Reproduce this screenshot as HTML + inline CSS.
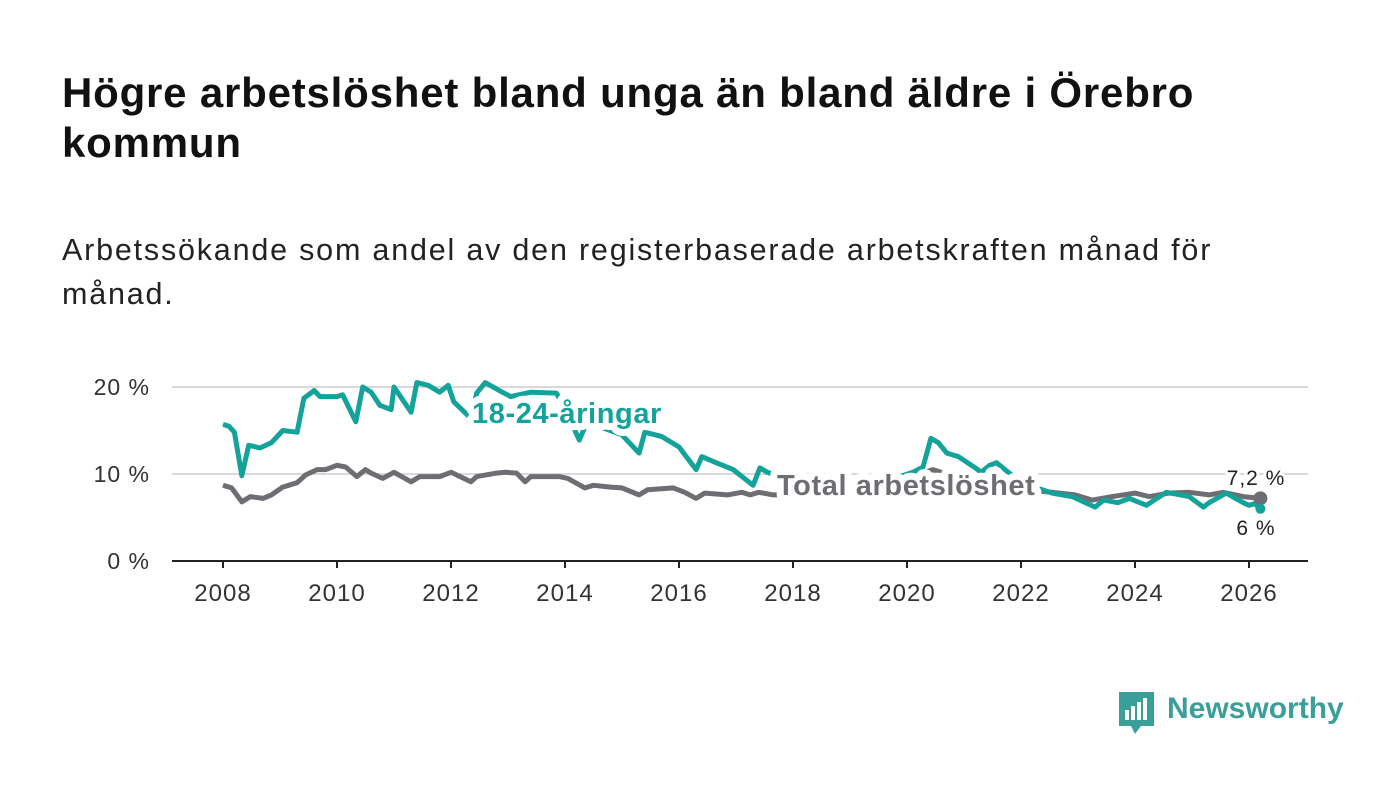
<!DOCTYPE html>
<html><head><meta charset="utf-8"><style>
body{margin:0;background:#fff;width:1400px;height:794px;overflow:hidden;font-family:"Liberation Sans",sans-serif;}
h1{position:absolute;left:62px;top:68px;margin:0;font-size:42px;line-height:50px;font-weight:bold;color:#111;width:1200px;letter-spacing:0.8px;}
p{position:absolute;left:62px;top:228px;margin:0;font-size:30.5px;line-height:44px;color:#222;width:1240px;letter-spacing:1.8px;}
svg{position:absolute;left:0;top:0;}
</style></head><body>
<h1>Högre arbetslöshet bland unga än bland äldre i Örebro kommun</h1>
<p>Arbetssökande som andel av den registerbaserade arbetskraften månad för månad.</p>
<svg id="c" width="1400" height="794"></svg>
<script>
const yTicks=[0,10,20];
const yTickLabels=["0 %","10 %","20 %"];
const xTicks=[2008,2010,2012,2014,2016,2018,2020,2022,2024,2026];
const youthDates=[2008.0,2008.1,2008.2,2008.33,2008.45,2008.65,2008.85,2009.05,2009.3,2009.42,2009.6,2009.7,2010.0,2010.1,2010.33,2010.45,2010.6,2010.75,2010.95,2011.0,2011.3,2011.4,2011.6,2011.8,2011.95,2012.05,2012.35,2012.45,2012.6,2012.9,2013.05,2013.4,2013.85,2014.0,2014.25,2014.4,2014.67,2015.0,2015.3,2015.4,2015.7,2016.0,2016.3,2016.4,2016.65,2016.95,2017.3,2017.42,2017.55,2018.0,2018.6,2019.2,2019.7,2020.1,2020.28,2020.42,2020.55,2020.7,2020.9,2021.2,2021.3,2021.45,2021.57,2022.0,2022.55,2022.9,2023.3,2023.45,2023.7,2023.9,2024.2,2024.55,2024.95,2025.2,2025.3,2025.6,2025.9,2026.0,2026.1,2026.2];
const youthValues=[15.7,15.5,14.8,9.8,13.3,13.0,13.6,15.0,14.8,18.7,19.6,18.9,18.9,19.1,16.0,20.0,19.4,17.9,17.4,20.0,17.1,20.5,20.2,19.4,20.2,18.3,16.4,19.3,20.5,19.4,18.9,19.4,19.3,17.5,13.9,16.2,15.3,14.5,12.4,14.8,14.3,13.1,10.5,12.0,11.3,10.5,8.7,10.7,10.2,9.2,8.8,9.0,9.3,10.2,10.8,14.1,13.6,12.4,12.0,10.7,10.2,11.0,11.3,9.0,7.8,7.4,6.2,7.0,6.7,7.2,6.4,7.9,7.4,6.2,6.7,7.8,6.7,6.4,6.6,6.0];
const totalDates=[2008.0,2008.15,2008.33,2008.48,2008.7,2008.85,2009.05,2009.3,2009.45,2009.65,2009.8,2010.0,2010.15,2010.35,2010.5,2010.6,2010.8,2011.0,2011.3,2011.45,2011.8,2012.0,2012.35,2012.45,2012.8,2012.95,2013.15,2013.3,2013.4,2013.9,2014.05,2014.35,2014.5,2014.8,2015.0,2015.3,2015.45,2015.9,2016.1,2016.3,2016.45,2016.85,2017.1,2017.25,2017.4,2017.65,2018.2,2018.8,2019.4,2020.0,2020.45,2020.6,2021.0,2021.5,2022.0,2022.55,2022.95,2023.25,2023.6,2024.0,2024.25,2024.6,2024.95,2025.3,2025.55,2025.9,2026.2];
const totalValues=[8.7,8.4,6.8,7.4,7.2,7.6,8.5,9.0,9.9,10.5,10.5,11.0,10.8,9.7,10.5,10.1,9.5,10.2,9.1,9.7,9.7,10.2,9.1,9.7,10.1,10.2,10.1,9.1,9.7,9.7,9.5,8.4,8.7,8.5,8.4,7.6,8.2,8.4,7.9,7.2,7.8,7.6,7.9,7.6,7.9,7.6,7.6,8.2,8.8,9.5,10.5,10.2,9.5,8.8,8.2,7.9,7.6,7.0,7.4,7.8,7.4,7.8,7.9,7.6,7.9,7.4,7.2];
const NS="http://www.w3.org/2000/svg",svg=document.getElementById('c');
const X0=172,X1=1308;
const xs=d=>223+(d-2008)*57;
const ys=v=>561-v*8.7;
function mk(t,a,p){const e=document.createElementNS(NS,t);for(const k in a)e.setAttribute(k,a[k]);(p||svg).appendChild(e);return e;}
yTicks.forEach((v,i)=>{
 if(v>0){const g=mk('line',{x1:X0,x2:X1,y1:ys(v),y2:ys(v),stroke:'#d9d9d9','stroke-width':2});
 
 }
 const t=mk('text',{x:150,y:ys(v)+8,'text-anchor':'end','font-size':23,'letter-spacing':1,fill:'#333'});t.textContent=yTickLabels[i];
 
 
});
const ax=mk('line',{x1:X0,x2:X1,y1:561,y2:561,stroke:'#222','stroke-width':2});


xTicks.forEach(d=>{
 mk('line',{x1:xs(d),x2:xs(d),y1:561,y2:568,stroke:'#222','stroke-width':2});
 const t=mk('text',{x:xs(d),y:601,'text-anchor':'middle','font-size':24,'letter-spacing':1,fill:'#333'});t.textContent=d;
 
 
});
function line(ds,vs,col,name){
 const p=mk('path',{d:ds.map((d,i)=>(i?'L':'M')+xs(d).toFixed(1)+','+ys(vs[i]).toFixed(1)).join(''),fill:'none',stroke:col,'stroke-width':5,'stroke-linejoin':'round'});
 
 
}
line(totalDates,totalValues,'#6e6d72','total-line');
line(youthDates,youthValues,'#13a39a','youth-line');
const ld=mk('circle',{cx:xs(totalDates.at(-1)),cy:ys(totalValues.at(-1)),r:7,fill:'#6e6d72'});


const yd=mk('circle',{cx:xs(youthDates.at(-1)),cy:ys(youthValues.at(-1)),r:5,fill:'#13a39a'});


function lab(x,y,txt,col,size,bold,name,anchor){
 const t=mk('text',{x:x,y:y,fill:col,'font-size':size,'font-weight':bold?'bold':'normal','letter-spacing':bold?0.6:1,stroke:'#fff','stroke-width':bold?14:6,'paint-order':'stroke','stroke-linejoin':'round','text-anchor':anchor||'start'});
 t.textContent=txt;
 
 
}
lab(472,423,'18-24-åringar','#13a39a',29,true,'youth-label');
lab(777,495,'Total arbetslöshet','#6e6d72',29,true,'total-label');
lab(1256,485,'7,2 %','#222',21,false,'total-end-value','middle');
lab(1256,535,'6 %','#222',21,false,'youth-end-value','middle');
</script>
<div style="position:absolute;left:1119px;top:692px;">
 <svg width="36" height="44" style="position:static"><path d="M0 0H35V34H22L16 42L12 34H0Z" fill="#3b9f99"/><rect x="6" y="18" width="4" height="10" fill="#fff"/><rect x="12" y="14" width="4" height="14" fill="#fff"/><rect x="18" y="10" width="4" height="18" fill="#fff"/><rect x="24" y="6" width="4" height="22" fill="#fff"/></svg>
 <span style="position:absolute;left:48px;top:0px;font-size:30px;font-weight:bold;color:#3b9f99;white-space:nowrap">Newsworthy</span>
</div>
</body></html>
